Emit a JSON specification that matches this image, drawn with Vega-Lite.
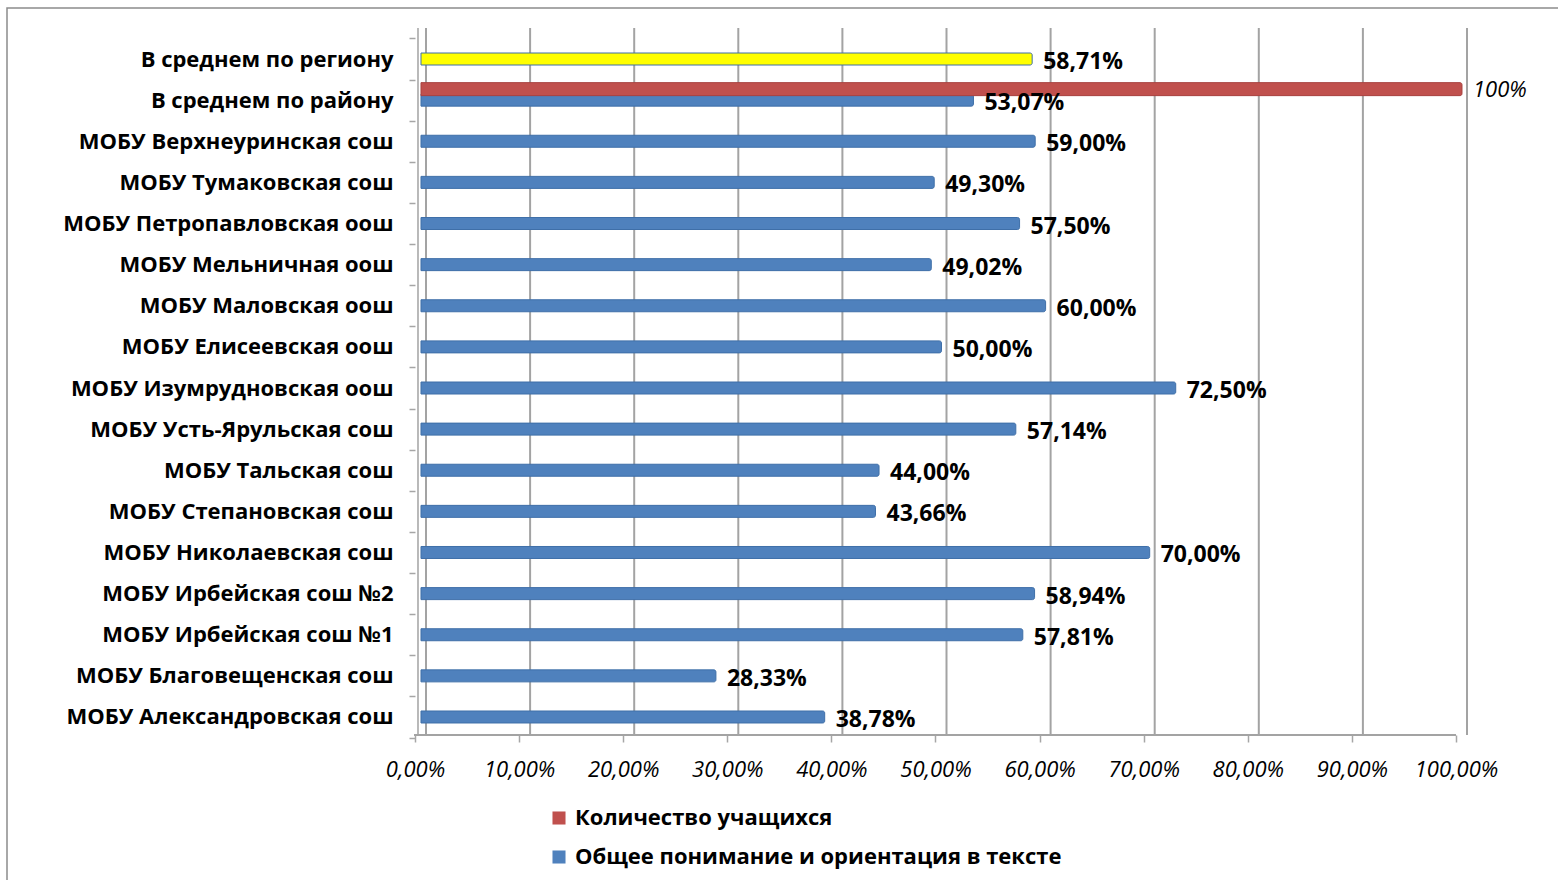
{
  "$schema": "https://vega.github.io/schema/vega-lite/v6.json",
  "width": 1555,
  "height": 876,
  "autosize": {"type": "none"},
  "padding": {"left": 7, "top": 8, "right": -4, "bottom": -4},
  "background": "white",
  "config": {
    "locale": {"number": {"decimal": ",", "thousands": " ", "grouping": [3], "currency": ["", " ₽"]}},
    "view": {"stroke": "#8C8C8C", "strokeWidth": 1.5},
    "font": "Open Sans"
  },
  "datasets": {
    "bars": [
      {"school": "В среднем по региону", "series": "Общее понимание и ориентация в тексте", "value": 0.5871},
      {"school": "В среднем  по району", "series": "Количество учащихся", "value": 1.0},
      {"school": "В среднем  по району", "series": "Общее понимание и ориентация в тексте", "value": 0.5307},
      {"school": "МОБУ Верхнеуринская сош", "series": "Общее понимание и ориентация в тексте", "value": 0.59},
      {"school": "МОБУ Тумаковская сош", "series": "Общее понимание и ориентация в тексте", "value": 0.493},
      {"school": "МОБУ Петропавловская оош", "series": "Общее понимание и ориентация в тексте", "value": 0.575},
      {"school": "МОБУ Мельничная оош", "series": "Общее понимание и ориентация в тексте", "value": 0.4902},
      {"school": "МОБУ Маловская оош", "series": "Общее понимание и ориентация в тексте", "value": 0.6},
      {"school": "МОБУ Елисеевская оош", "series": "Общее понимание и ориентация в тексте", "value": 0.5},
      {"school": "МОБУ Изумрудновская оош", "series": "Общее понимание и ориентация в тексте", "value": 0.725},
      {"school": "МОБУ Усть-Ярульская сош", "series": "Общее понимание и ориентация в тексте", "value": 0.5714},
      {"school": "МОБУ Тальская сош", "series": "Общее понимание и ориентация в тексте", "value": 0.44},
      {"school": "МОБУ Степановская сош", "series": "Общее понимание и ориентация в тексте", "value": 0.4366},
      {"school": "МОБУ Николаевская сош", "series": "Общее понимание и ориентация в тексте", "value": 0.7},
      {"school": "МОБУ Ирбейская сош №2", "series": "Общее понимание и ориентация в тексте", "value": 0.5894},
      {"school": "МОБУ Ирбейская сош №1 ", "series": "Общее понимание и ориентация в тексте", "value": 0.5781},
      {"school": "МОБУ Благовещенская сош", "series": "Общее понимание и ориентация в тексте", "value": 0.2833},
      {"school": "МОБУ Александровская сош", "series": "Общее понимание и ориентация в тексте", "value": 0.3878}
    ],
    "grid": [
      {"g": 0}, {"g": 0.1}, {"g": 0.2}, {"g": 0.3}, {"g": 0.4}, {"g": 0.5},
      {"g": 0.6}, {"g": 0.7}, {"g": 0.8}, {"g": 0.9}, {"g": 1.0}
    ]
  },
  "layer": [
    {
      "data": {"name": "grid"},
      "mark": {"type": "rule", "color": "#A3A3A3", "strokeWidth": 2, "xOffset": 5, "yOffset": -31, "y2Offset": 18},
      "encoding": {
        "x": {
          "field": "g", "type": "quantitative",
          "scale": {"domain": [-0.397695, 1.096065], "nice": false, "zero": false},
          "axis": {
            "orient": "bottom", "offset": -149, "title": null, "domain": false, "grid": false,
            "values": [0, 0.1, 0.2, 0.3, 0.4, 0.5, 0.6, 0.7, 0.8, 0.9, 1.0], "format": ".2%",
            "tickOffset": -6, "tickSize": 7, "tickColor": "#A6A6A6", "tickWidth": 1.5,
            "labelFontSize": 22, "labelFontStyle": "italic", "labelColor": "black", "labelPadding": 17
          }
        },
        "y": {
          "datum": "В среднем по региону", "type": "nominal",
          "scale": {
            "type": "band",
            "domain": ["В среднем по региону", "В среднем  по району", "МОБУ Верхнеуринская сош", "МОБУ Тумаковская сош", "МОБУ Петропавловская оош", "МОБУ Мельничная оош", "МОБУ Маловская оош", "МОБУ Елисеевская оош", "МОБУ Изумрудновская оош", "МОБУ Усть-Ярульская сош", "МОБУ Тальская сош", "МОБУ Степановская сош", "МОБУ Николаевская сош", "МОБУ Ирбейская сош №2", "МОБУ Ирбейская сош №1 ", "МОБУ Благовещенская сош", "МОБУ Александровская сош"],
            "range": [30.44, 729.56],
            "paddingInner": 0, "paddingOuter": 0
          },
          "axis": {
            "orient": "left", "offset": -408, "title": null, "domain": false, "grid": false,
            "ticks": true, "tickBand": "extent", "tickSize": 6, "tickColor": "#A6A6A6", "tickWidth": 1.5,
            "labelFontSize": 22, "labelFontWeight": "bold", "labelColor": "black", "labelPadding": 16, "labelLimit": 600
          }
        },
        "y2": {"datum": "МОБУ Александровская сош"}
      }
    },
    {
      "data": {"name": "grid"},
      "transform": [{"filter": "datum.g == 0"}],
      "mark": {"type": "rule", "color": "#A3A3A3", "strokeWidth": 1.5, "xOffset": -3, "yOffset": -31, "y2Offset": 18},
      "encoding": {
        "x": {"field": "g", "type": "quantitative"},
        "y": {"datum": "В среднем по региону", "type": "nominal"},
        "y2": {"datum": "МОБУ Александровская сош"}
      }
    },
    {
      "data": {"name": "grid"},
      "transform": [{"filter": "datum.g == 0"}],
      "mark": {"type": "rule", "color": "#A3A3A3", "strokeWidth": 2, "xOffset": -7, "x2Offset": -6, "yOffset": 18},
      "encoding": {
        "x": {"field": "g", "type": "quantitative"},
        "x2": {"datum": 1},
        "y": {"datum": "МОБУ Александровская сош", "type": "nominal"}
      }
    },
    {
      "data": {"name": "bars"},
      "transform": [{"filter": "datum.series == 'Общее понимание и ориентация в тексте'"}],
      "mark": {"type": "bar", "size": 12, "stroke": "#3F6FA8", "strokeWidth": 1, "cornerRadiusEnd": 2},
      "encoding": {
        "y": {"field": "school", "type": "nominal", "sort": null},
        "x": {"field": "value", "type": "quantitative", "stack": null},
        "color": {
          "condition": {"test": "datum.school == 'В среднем по региону'", "value": "#FFFF00"},
          "field": "series", "type": "nominal",
          "scale": {"domain": ["Количество учащихся", "Общее понимание и ориентация в тексте"], "range": ["#C0504D", "#4F81BD"]},
          "legend": {
            "orient": "none", "legendX": 541, "legendY": 799, "title": null, "direction": "vertical",
            "symbolType": "square", "symbolSize": 170, "symbolStrokeWidth": 0,
            "labelFontSize": 22, "labelFontWeight": "bold", "labelColor": "black", "labelOffset": 5, "rowPadding": 17, "labelLimit": 800
          }
        }
      }
    },
    {
      "data": {"name": "bars"},
      "transform": [{"filter": "datum.series == 'Количество учащихся'"}],
      "mark": {"type": "bar", "size": 13, "yOffset": -11, "stroke": "#A8423F", "strokeWidth": 1, "cornerRadiusEnd": 2},
      "encoding": {
        "y": {"field": "school", "type": "nominal", "sort": null},
        "x": {"field": "value", "type": "quantitative", "stack": null},
        "color": {"field": "series", "type": "nominal"}
      }
    },
    {
      "data": {"name": "bars"},
      "transform": [{"filter": "datum.series == 'Общее понимание и ориентация в тексте'"}],
      "mark": {"type": "text", "align": "left", "baseline": "middle", "dx": 11, "dy": 3, "fontSize": 23, "fontWeight": "bold", "color": "black"},
      "encoding": {
        "y": {"field": "school", "type": "nominal", "sort": null},
        "x": {"field": "value", "type": "quantitative"},
        "text": {"field": "value", "type": "quantitative", "format": ".2%"}
      }
    },
    {
      "data": {"name": "bars"},
      "transform": [{"filter": "datum.series == 'Количество учащихся'"}],
      "mark": {"type": "text", "align": "left", "baseline": "middle", "dx": 11, "yOffset": -10, "fontSize": 22, "fontStyle": "italic", "color": "black"},
      "encoding": {
        "y": {"field": "school", "type": "nominal", "sort": null},
        "x": {"field": "value", "type": "quantitative"},
        "text": {"field": "value", "type": "quantitative", "format": ".0%"}
      }
    }
  ]
}
